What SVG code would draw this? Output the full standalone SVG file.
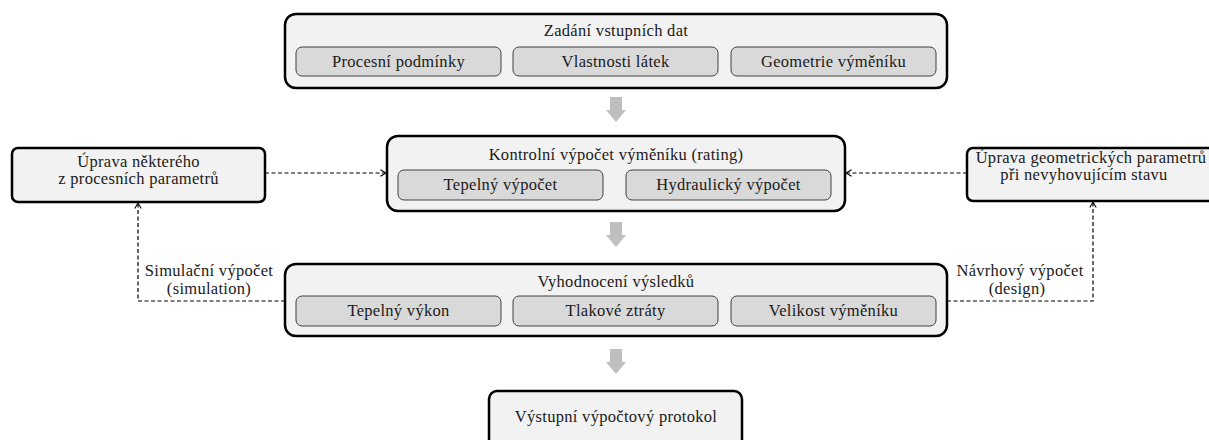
<svg xmlns="http://www.w3.org/2000/svg" width="1209" height="440" viewBox="0 0 1209 440">
<style>
.outer{fill:#f2f2f2;stroke:#000;stroke-width:2.5}
.sub{fill:#d9d9d9;stroke:#404040;stroke-width:1}
.t{font-family:'Liberation Serif','Times New Roman',serif;font-size:16.5px;letter-spacing:0.3px;fill:#1a1a1a;text-anchor:middle}
.dash{fill:none;stroke:#000;stroke-width:1.2;stroke-dasharray:4 2.5}
.big{fill:#bfbfbf}
</style>
<defs>
<marker id="chev" viewBox="0 0 10 10" refX="9" refY="5" markerWidth="8" markerHeight="8" orient="auto" markerUnits="userSpaceOnUse">
<path d="M2,1 L9,5 L2,9" fill="none" stroke="#000" stroke-width="1.3"/>
</marker>
<path id="bigarrow" d="M-6,0 H6 V13 H10 L0,25 L-10,13 H-6 Z"/>
</defs>
<rect width="1209" height="440" fill="#fff"/>

<g id="input">
<rect class="outer" x="285" y="14" width="662" height="74" rx="11"/>
<text class="t" x="616" y="36">Zadání vstupních dat</text>
<rect class="sub" x="296" y="47" width="205" height="29" rx="6"/>
<text class="t" x="398.5" y="67">Procesní podmínky</text>
<rect class="sub" x="513" y="47" width="205" height="29" rx="6"/>
<text class="t" x="615.5" y="67">Vlastnosti látek</text>
<rect class="sub" x="731" y="47" width="205" height="29" rx="6"/>
<text class="t" x="833.5" y="67">Geometrie výměníku</text>
</g>

<g id="rating">
<rect class="outer" x="387" y="136" width="458" height="75" rx="11"/>
<text class="t" x="616" y="160">Kontrolní výpočet výměníku (rating)</text>
<rect class="sub" x="398" y="170" width="205" height="30" rx="6"/>
<text class="t" x="500.5" y="190">Tepelný výpočet</text>
<rect class="sub" x="626" y="170" width="205" height="30" rx="6"/>
<text class="t" x="728.5" y="190">Hydraulický výpočet</text>
</g>

<g id="uprava-proces">
<rect class="outer" x="12" y="148" width="253" height="54" rx="6"/>
<text class="t" x="138.5" y="167">Úprava některého</text>
<text class="t" x="138.5" y="184">z procesních parametrů</text>
</g>

<g id="uprava-geom">
<rect class="outer" x="967" y="148" width="260" height="53" rx="6"/>
<text class="t" x="1091" y="163">Úprava geometrických parametrů</text>
<text class="t" x="1084" y="180">při nevyhovujícím stavu</text>
</g>

<g id="vyhodnoceni">
<rect class="outer" x="285" y="264" width="662" height="72" rx="11"/>
<text class="t" x="616" y="287">Vyhodnocení výsledků</text>
<rect class="sub" x="296" y="296" width="205" height="30" rx="6"/>
<text class="t" x="398.5" y="316">Tepelný výkon</text>
<rect class="sub" x="513" y="296" width="205" height="30" rx="6"/>
<text class="t" x="615.5" y="316">Tlakové ztráty</text>
<rect class="sub" x="731" y="296" width="205" height="30" rx="6"/>
<text class="t" x="833.5" y="316">Velikost výměníku</text>
</g>

<g id="protokol">
<rect class="outer" x="489" y="391" width="253" height="60" rx="8"/>
<text class="t" x="616" y="422">Výstupní výpočtový protokol</text>
</g>

<g id="connectors">
<use href="#bigarrow" class="big" x="616" y="97"/>
<use href="#bigarrow" class="big" x="616" y="222"/>
<use href="#bigarrow" class="big" x="616" y="349"/>
<path class="dash" d="M265,173 H386" marker-end="url(#chev)"/>
<path class="dash" d="M967,173 H846" marker-end="url(#chev)"/>
<path class="dash" d="M285,301 H138 V203" marker-end="url(#chev)"/>
<path class="dash" d="M947,301 H1093 V202" marker-end="url(#chev)"/>
<text class="t" x="209" y="276">Simulační výpočet</text>
<text class="t" x="209" y="294">(simulation)</text>
<text class="t" x="1020" y="276">Návrhový výpočet</text>
<text class="t" x="1017" y="294">(design)</text>
</g>
</svg>
